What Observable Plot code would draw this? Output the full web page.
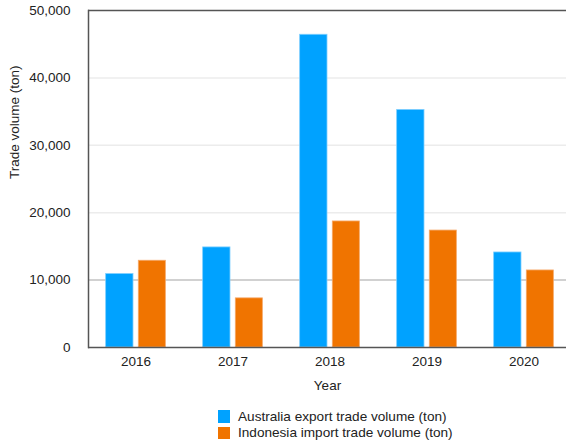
<!DOCTYPE html>
<html>
<head>
<meta charset="utf-8">
<script src="https://cdn.jsdelivr.net/npm/d3@7"></script>
<script src="https://cdn.jsdelivr.net/npm/@observablehq/plot@0.6"></script>
<style>
  html, body { margin: 0; padding: 0; background: #fff; }
  body { width: 566px; height: 445px; overflow: hidden; font-family: "Liberation Sans", Arial, sans-serif; }
  #legend { margin-left: 218px; margin-top: 13px; font-size: 13.6px; color: #222; }
  #legend .row { display: flex; align-items: center; height: 16.5px; }
  #legend .sw { width: 12px; height: 12.5px; margin-right: 8px; }
</style>
</head>
<body>
<div id="chart"></div>
<div id="legend"></div>
<script>
const years = ["2016", "2017", "2018", "2019", "2020"];
const australia = [10900, 14850, 46400, 35250, 14100];
const indonesia = [12870, 7290, 18700, 17350, 11430];
const seriesNames = ["Australia export trade volume (ton)", "Indonesia import trade volume (ton)"];
const seriesColors = ["#00a2ff", "#f07400"];
const yTicks = [0, 10000, 20000, 30000, 40000, 50000];
const xLabel = "Year";
const yLabel = "Trade volume (ton)";

const ausData = years.map((year, i) => ({year, value: australia[i]}));
const indData = years.map((year, i) => ({year, value: indonesia[i]}));

const chart = Plot.plot({
  width: 566,
  height: 395,
  marginLeft: 88,
  marginRight: 0,
  marginTop: 10,
  marginBottom: 48,
  style: {fontFamily: "'Liberation Sans', Arial, sans-serif", fontSize: "13.5px", color: "#222", background: "#fff"},
  x: {domain: years, range: [86.35, 572.85], padding: 0, tickSize: 0, tickPadding: 9, label: null},
  y: {domain: [0, 50000], ticks: yTicks, tickFormat: d3.format(","), tickSize: 0, tickPadding: 18, label: null},
  marks: [
    Plot.ruleY([20000, 30000, 40000], {stroke: "#ececec", strokeWidth: 1.5}),
    Plot.ruleY([10000], {stroke: "#c2c2c2", strokeWidth: 1.5}),
    Plot.barY(ausData, {x: "year", y: "value", fill: seriesColors[0], stroke: "#7fcfff", strokeWidth: 0.8, insetLeft: 18.65, insetRight: 51}),
    Plot.barY(indData, {x: "year", y: "value", fill: seriesColors[1], stroke: "#f5a868", strokeWidth: 0.8, insetLeft: 51.3, insetRight: 18.65}),
    Plot.ruleY([0], {stroke: "#555", strokeWidth: 1.5}),
    Plot.ruleY([50000], {stroke: "#555", strokeWidth: 1.5}),
    Plot.frame({anchor: "left", stroke: "#555", strokeWidth: 1.5}),
    Plot.text([yLabel], {frameAnchor: "left", dx: -74, rotate: -90, fontSize: 13.5, fill: "#222"}),
    Plot.text([xLabel], {frameAnchor: "bottom", dy: 42, fontSize: 13.5, fill: "#222"})
  ]
});
document.getElementById("chart").appendChild(chart);

const legend = document.getElementById("legend");
seriesNames.forEach((name, i) => {
  const row = document.createElement("div");
  row.className = "row";
  const sw = document.createElement("div");
  sw.className = "sw";
  sw.style.background = seriesColors[i];
  const label = document.createElement("span");
  label.textContent = name;
  row.appendChild(sw);
  row.appendChild(label);
  legend.appendChild(row);
});
</script>
</body>
</html>
